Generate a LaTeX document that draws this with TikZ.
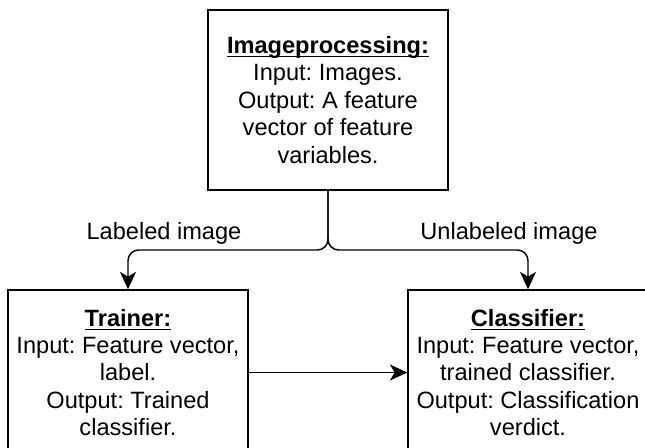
\documentclass[tikz,border=0pt]{standalone}
\usepackage{fontspec}
\setmainfont{Liberation Sans}
\usetikzlibrary{arrows.meta}
\frenchspacing
\newcommand\myul[1]{\setbox0\hbox{#1}\rlap{\rule[-3pt]{\wd0}{1.1pt}}\box0}
\begin{document}
\begin{tikzpicture}[x=0.75pt,y=-0.75pt,
  box/.style={draw=black, line width=1.1pt, align=center, inner sep=0pt, minimum width=180pt, font=\fontsize{17.7pt}{20.6pt}\selectfont},
  lbl/.style={font=\fontsize{17.7pt}{20.6pt}\selectfont, inner sep=0pt, anchor=base},
  conn/.style={line width=1.1pt, -{Stealth[length=13pt,width=12pt,inset=3.5pt]}, rounded corners=8pt}]
\useasboundingbox (0,0) rectangle (645,448);
\clip (0,0) rectangle (645,448);
\node[box, minimum height=135pt] (ip) at (328,100) {\myul{\textbf{Imageprocessing:}}\\Input: Images.\\Output: A feature\\vector of feature\\variables.};
\node[box, minimum height=123.75pt] (tr) at (128,372.5) {\myul{\textbf{Trainer:}}\\Input: Feature vector,\\label.\\Output: Trained\\classifier.};
\node[box, minimum height=123.75pt] (cl) at (528,372.5) {\myul{\textbf{Classifier:}}\\Input: Feature vector,\\trained classifier.\\Output: Classification\\verdict.};
\coordinate (split) at (328,250);
\draw[conn] (ip.south) -- (split) -| (tr.north);
\draw[conn] (ip.south) -- (split) -| (cl.north);
\draw[conn] (tr.east) -- (cl.west);
\node[lbl] (ll) at (164,240) {Labeled image};
\node[lbl] (ul) at (509,240) {Unlabeled image};
\end{tikzpicture}
\end{document}
